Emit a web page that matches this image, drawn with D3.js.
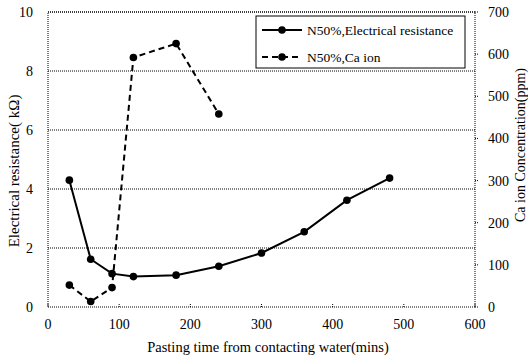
<!DOCTYPE html>
<html>
<head>
<meta charset="utf-8">
<script src="https://cdn.jsdelivr.net/npm/d3@7"></script>
<style>
body { margin: 0; background: #fff; }
svg text { font-family: "Liberation Serif", serif; }
</style>
</head>
<body>
<svg width="528" height="361"></svg>
<script>
const svg = d3.select("svg")

// data
const times = [30, 60, 90, 120, 180, 240, 300, 360, 420, 480];
const resistance = [4.3, 1.62, 1.13, 1.03, 1.08, 1.38, 1.83, 2.55, 3.62, 4.37];
const caTimes = [30, 60, 90, 120, 180, 240];
const caIon = [52, 13, 46, 592, 625, 458];
const xTicks = [0, 100, 200, 300, 400, 500, 600];
const leftTicks = [0, 2, 4, 6, 8, 10];
const rightTicks = [0, 100, 200, 300, 400, 500, 600, 700];
const seriesNames = ["N50%,Electrical resistance", "N50%,Ca ion"];

const plotL = 48, plotR = 475, plotT = 12, plotB = 307;

const x = d3.scaleLinear().domain([0, 600]).range([plotL, plotR]);
const yL = d3.scaleLinear().domain([0, 10]).range([plotB, plotT]);
const yR = d3.scaleLinear().domain([0, 700]).range([plotB, plotT]);

// gridlines
svg.append("g")
    .selectAll("line")
    .data(leftTicks.filter(d => d > 0))
    .enter().append("line")
        .attr("x1", plotL).attr("x2", plotR)
        .attr("y1", d => yL(d)).attr("y2", d => yL(d))
        .attr("stroke", "#000")
        .attr("stroke-width", 1)
        .attr("stroke-dasharray", "1,1");

// plot border (dotted)
svg.append("rect")
    .attr("x", plotL).attr("y", plotT)
    .attr("width", plotR - plotL).attr("height", plotB - plotT)
    .attr("fill", "none")
    .attr("stroke", "#000")
    .attr("stroke-width", 1)
    .attr("stroke-dasharray", "1,1");

// x tick marks (inward) and labels
svg.append("g")
    .selectAll("line")
    .data(xTicks)
    .enter().append("line")
        .attr("x1", d => x(d)).attr("x2", d => x(d))
        .attr("y1", plotB).attr("y2", plotB - 4)
        .attr("stroke", "#000")
        .attr("stroke-dasharray", "1,1");

svg.append("g")
    .selectAll("text")
    .data(xTicks)
    .enter().append("text")
        .attr("x", d => x(d))
        .attr("y", 329)
        .attr("text-anchor", "middle")
        .attr("font-size", 14)
        .text(d => d);

// left labels
svg.append("g")
    .selectAll("text")
    .data(leftTicks)
    .enter().append("text")
        .attr("x", 33)
        .attr("y", d => yL(d) + 5)
        .attr("text-anchor", "end")
        .attr("font-size", 14)
        .text(d => d);

// right ticks and labels
svg.append("g")
    .selectAll("line")
    .data(rightTicks)
    .enter().append("line")
        .attr("x1", plotR).attr("x2", plotR + 4)
        .attr("y1", d => yR(d)).attr("y2", d => yR(d))
        .attr("stroke", "#000")
        .attr("stroke-dasharray", "1,1");

svg.append("g")
    .selectAll("text")
    .data(rightTicks)
    .enter().append("text")
        .attr("x", 488)
        .attr("y", d => yR(d) + 5)
        .attr("text-anchor", "start")
        .attr("font-size", 14)
        .text(d => d);

// axis titles
svg.append("text")
    .attr("x", 268)
    .attr("y", 352)
    .attr("text-anchor", "middle")
    .attr("font-size", 14.5)
    .text("Pasting time from contacting water(mins)");

svg.append("text")
    .attr("transform", "translate(19,171) rotate(-90)")
    .attr("text-anchor", "middle")
    .attr("font-size", 15)
    .text("Electrical resistance( kΩ)");

svg.append("text")
    .attr("transform", "translate(525,145) rotate(-90)")
    .attr("text-anchor", "middle")
    .attr("font-size", 14)
    .text("Ca ion Concentration(ppm)");

// series
const resData = times.map((t, i) => ({t: t, v: resistance[i]}));
const caData = caTimes.map((t, i) => ({t: t, v: caIon[i]}));

svg.append("path")
    .datum(caData)
    .attr("fill", "none")
    .attr("stroke", "#000")
    .attr("stroke-width", 2)
    .attr("stroke-dasharray", "6,4")
    .attr("d", d3.line().x(d => x(d.t)).y(d => yR(d.v)));

svg.append("g")
    .selectAll("circle")
    .data(caData)
    .enter().append("circle")
        .attr("cx", d => x(d.t))
        .attr("cy", d => yR(d.v))
        .attr("r", 3.8);

svg.append("path")
    .datum(resData)
    .attr("fill", "none")
    .attr("stroke", "#000")
    .attr("stroke-width", 2)
    .attr("d", d3.line().x(d => x(d.t)).y(d => yL(d.v)));

svg.append("g")
    .selectAll("circle")
    .data(resData)
    .enter().append("circle")
        .attr("cx", d => x(d.t))
        .attr("cy", d => yL(d.v))
        .attr("r", 3.8);

// legend
const legend = svg.append("g");
legend.append("rect")
    .attr("x", 256).attr("y", 16)
    .attr("width", 209).attr("height", 52)
    .attr("fill", "#fff")
    .attr("stroke", "#000")
    .attr("stroke-width", 1);

seriesNames.forEach(function(name, i) {
    const ly = 30 + i * 27;
    legend.append("line")
        .attr("x1", 262).attr("x2", 302)
        .attr("y1", ly).attr("y2", ly)
        .attr("stroke", "#000")
        .attr("stroke-width", 2)
        .attr("stroke-dasharray", i === 1 ? "6,4" : null);
    legend.append("circle")
        .attr("cx", 282).attr("cy", ly).attr("r", 3.8);
    legend.append("text")
        .attr("x", 307)
        .attr("y", ly + 4.5)
        .attr("font-size", 13.5)
        .text(name);
});
</script>
</body>
</html>
